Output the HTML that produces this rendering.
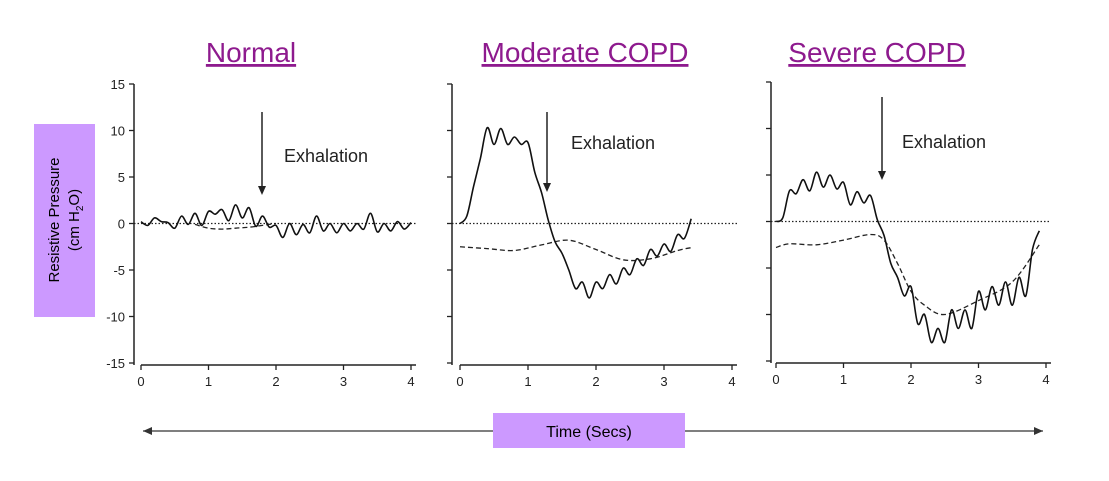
<!DOCTYPE html>
<html><head><meta charset="utf-8"><style>
body{margin:0;background:#fff;width:1109px;height:481px;overflow:hidden;}
svg{display:block;font-family:"Liberation Sans",sans-serif;}
</style></head><body>
<svg id="chart" width="1109" height="481" xmlns="http://www.w3.org/2000/svg">
<text x="251" y="62" text-anchor="middle" font-size="28" fill="#8e1a8e" text-decoration="underline">Normal</text>
<text x="585" y="62" text-anchor="middle" font-size="28" fill="#8e1a8e" text-decoration="underline">Moderate COPD</text>
<text x="877" y="62" text-anchor="middle" font-size="28" fill="#8e1a8e" text-decoration="underline">Severe COPD</text>
<rect x="34" y="124" width="61" height="193" fill="#cc99ff"/>
<g transform="translate(59,220) rotate(-90)">
<text x="0" y="0" text-anchor="middle" font-size="15">Resistive Pressure</text>
<text x="0" y="20" text-anchor="middle" font-size="15">(cm H<tspan font-size="10" dy="4">2</tspan><tspan dy="-4">O)</tspan></text>
</g>
<line x1="143" y1="431" x2="1043" y2="431" stroke="#333" stroke-width="1.2"/>
<path d="M143,431 l9,-4 v8 z M1043,431 l-9,-4 v8 z" fill="#333"/>
<rect x="493" y="413" width="192" height="35" fill="#cc99ff"/>
<text x="589" y="437" text-anchor="middle" font-size="16">Time (Secs)</text>
<g id="panels"></g>
</svg>
<script>
const yTicks=[15,10,5,0,-5,-10,-15];
const xTicks=[0,1,2,3,4];
const normalT=[0,0.1,0.2,0.3,0.4,0.5,0.6,0.7,0.8,0.9,1.0,1.1,1.2,1.3,1.4,1.5,1.6,1.7,1.8,1.9,2.0,2.1,2.2,2.3,2.4,2.5,2.6,2.7,2.8,2.9,3.0,3.1,3.2,3.3,3.4,3.5,3.6,3.7,3.8,3.9,4.0];
const normalSolid=[0.2,-0.2,0.6,0.2,0.1,-0.5,0.8,-0.1,1.1,-0.2,1.3,1.0,1.5,0.3,2.0,0.6,1.7,-0.3,0.8,-0.4,-0.2,-1.5,0,-1.2,-0.1,-1.0,0.8,-0.8,0,-1.0,0,-0.8,0,-0.6,1.1,-0.9,0,-0.8,0.2,-0.6,0.1];
const normalDashT=[0.8,1.0,1.2,1.4,1.6,1.8,2.0];
const normalDash=[-0.1,-0.5,-0.6,-0.5,-0.4,-0.2,0];
const modT=[0,0.1,0.2,0.3,0.4,0.5,0.6,0.7,0.8,0.9,1.0,1.1,1.2,1.3,1.4,1.5,1.6,1.7,1.8,1.9,2.0,2.1,2.2,2.3,2.4,2.5,2.6,2.7,2.8,2.9,3.0,3.1,3.2,3.3,3.4];
const modSolid=[0,0.8,4,7,10.3,8.5,10.2,8.5,9.3,8.5,8.7,5.5,3.3,0.3,-2,-3.2,-5,-7,-6.3,-8,-6.3,-7,-5.5,-6.5,-4.8,-5.5,-3.8,-4.5,-2.8,-3.5,-2.2,-3,-1.2,-1.6,0.5];
const modDashT=[0,0.4,0.8,1.2,1.6,2.0,2.4,2.8,3.2,3.4];
const modDash=[-2.5,-2.7,-2.9,-2.3,-1.8,-2.8,-3.9,-3.8,-2.9,-2.6];
const sevT=[0,0.1,0.2,0.3,0.4,0.5,0.6,0.7,0.8,0.9,1.0,1.1,1.2,1.3,1.4,1.5,1.6,1.7,1.8,1.9,2.0,2.1,2.2,2.3,2.4,2.5,2.6,2.7,2.8,2.9,3.0,3.1,3.2,3.3,3.4,3.5,3.6,3.7,3.8,3.9];
const sevSolid=[0,0.4,3.3,3,4.5,3.3,5.3,3.7,5,3.5,4.2,1.8,3.2,2,2.8,0.2,-1.5,-4.5,-6,-8,-7,-11,-10,-13,-11.5,-13,-9.5,-11.5,-9.5,-11.5,-7.5,-9.5,-7,-9,-6.5,-9,-6,-8,-3,-1];
const sevDashT=[0,0.2,0.6,1.0,1.4,1.6,1.8,2.0,2.2,2.5,3.0,3.5,3.9];
const sevDash=[-2.8,-2.4,-2.5,-2,-1.4,-2,-4.5,-7.5,-9,-10,-8.5,-6.5,-2.5];

const NS='http://www.w3.org/2000/svg';
const root=document.getElementById('panels');
function mk(tag,attrs,parent){const e=document.createElementNS(NS,tag);for(const k in attrs)e.setAttribute(k,attrs[k]);(parent||root).appendChild(e);return e;}
function smooth(pts){let d='M'+pts[0][0]+','+pts[0][1];for(let i=0;i<pts.length-1;i++){const p0=pts[Math.max(0,i-1)],p1=pts[i],p2=pts[i+1],p3=pts[Math.min(pts.length-1,i+2)];
const c1x=p1[0]+(p2[0]-p0[0])/6,c1y=p1[1]+(p2[1]-p0[1])/6,c2x=p2[0]-(p3[0]-p1[0])/6,c2y=p2[1]-(p3[1]-p1[1])/6;
d+=` C${c1x.toFixed(1)},${c1y.toFixed(1)} ${c2x.toFixed(1)},${c2y.toFixed(1)} ${p2[0].toFixed(1)},${p2[1].toFixed(1)}`;}return d;}

const panels=[
 {name:'normal',ax:134,x0:141,x4:411,y15:84,ym15:363,labels:true,sT:normalT,s:normalSolid,dT:normalDashT,d:normalDash,arrow:[262,112,195],ex:[284,162]},
 {name:'moderate',ax:452,x0:460,x4:732,y15:84,ym15:363,labels:false,sT:modT,s:modSolid,dT:modDashT,d:modDash,arrow:[547,112,192],ex:[571,149]},
 {name:'severe',ax:771,x0:776,x4:1046,y15:82,ym15:361,labels:false,sT:sevT,s:sevSolid,dT:sevDashT,d:sevDash,arrow:[882,97,180],ex:[902,148]}
];
panels.forEach(p=>{
 const g=mk('g',{});
 
 
 const X=t=>p.x0+(p.x4-p.x0)*t/4;
 const Y=v=>p.y15+(p.ym15-p.y15)*(15-v)/30;
 const ya=mk('line',{x1:p.ax,y1:p.y15,x2:p.ax,y2:p.ym15+2,stroke:'#222','stroke-width':1.5},g);
 
 
 yTicks.forEach(v=>{mk('line',{x1:p.ax-5,y1:Y(v),x2:p.ax,y2:Y(v),stroke:'#222','stroke-width':1.3},g);
  if(p.labels){const t=mk('text',{x:p.ax-9,y:Y(v)+5,'text-anchor':'end','font-size':13,fill:'#222'},g);t.textContent=v;
   
   }});
 const xa=mk('line',{x1:X(0),y1:p.ym15+2,x2:X(4)+5,y2:p.ym15+2,stroke:'#222','stroke-width':1.5},g);
 
 
 xTicks.forEach(v=>{mk('line',{x1:X(v),y1:p.ym15+2,x2:X(v),y2:p.ym15+7,stroke:'#222','stroke-width':1.3},g);
  const t=mk('text',{x:X(v),y:p.ym15+23,'text-anchor':'middle','font-size':13,fill:'#222'},g);t.textContent=v;
  
  });
 const zl=mk('line',{x1:p.ax,y1:Y(0),x2:X(4)+5,y2:Y(0),stroke:'#222','stroke-width':1.3,'stroke-dasharray':'1.5,2'},g);
 
 
 const dl=mk('path',{d:smooth(p.dT.map((t,i)=>[X(t),Y(p.d[i])])),fill:'none',stroke:'#222','stroke-width':1.3,'stroke-dasharray':'5,3'},g);
 
 
 const sl=mk('path',{d:smooth(p.sT.map((t,i)=>[X(t),Y(p.s[i])])),fill:'none',stroke:'#111','stroke-width':1.6},g);
 
 
 const [ax,a1,a2]=p.arrow;
 const ar=mk('line',{x1:ax,y1:a1,x2:ax,y2:a2-8,stroke:'#222','stroke-width':1.5},g);
 
 
 mk('path',{d:`M${ax-4},${a2-9} L${ax+4},${a2-9} L${ax},${a2} Z`,fill:'#222'},g);
 const et=mk('text',{x:p.ex[0],y:p.ex[1],'font-size':18,fill:'#222'},g);et.textContent='Exhalation';
 
 
});
</script>
</body></html>
